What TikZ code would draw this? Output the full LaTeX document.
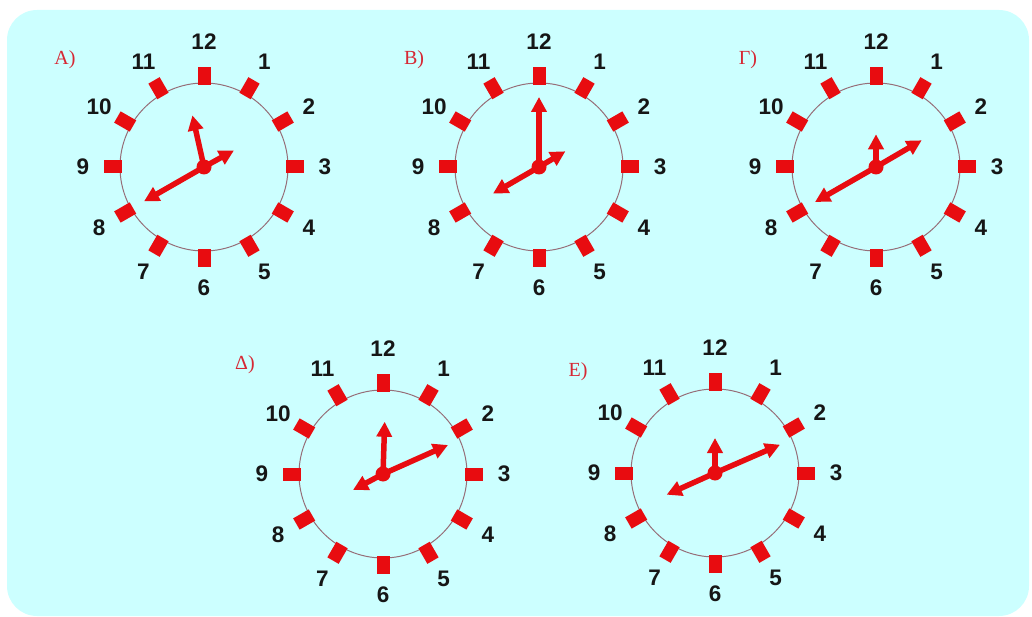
\documentclass[tikz,border=0pt]{standalone}
\usepackage{fontspec}
\setmainfont{Liberation Sans}
\newfontfamily\labelfont{Liberation Serif}
\usetikzlibrary{arrows.meta}
\definecolor{bgcyan}{RGB}{204,255,255}
\definecolor{clockred}{RGB}{232,12,16}
\definecolor{rimgray}{RGB}{150,110,120}
\definecolor{numblack}{RGB}{22,22,22}
\definecolor{lblred}{RGB}{214,40,52}
\tikzset{
  rim/.style={draw=rimgray, line width=1pt},
  tickmark/.style={fill=clockred},
  num/.style={font=\fontsize{22.5}{22.5}\selectfont\bfseries, text=numblack, inner sep=0pt},
  hand/.style={draw=clockred, line width=5.5pt, -{Triangle[length=15pt,width=15pt]}},
  hub/.style={fill=clockred},
  lbl/.style={font=\labelfont\fontsize{20}{20}\selectfont, text=lblred, inner sep=0pt},
}
\newcommand\clockface[3]{%
  \begin{scope}[shift={(#2)}]
    \coordinate (#1) at (0,0);
    \draw[rim] (#1) circle[radius=84];
    \foreach \h in {1,...,12}{
      \fill[tickmark, rotate=-30*\h] (-6.5,-100) rectangle (6.5,-82);
      \pgfmathsetmacro\rr{\h==12 ? 125 : 121}
      \node[num] (#1-n\h) at ({-90+30*\h}:\rr) {\h};
    }
    \foreach \tx/\ty [count=\i] in {#3}{
      \coordinate (#1-t\i) at (\tx,\ty);
      \draw[hand] (#1) -- (#1-t\i);
    }
    \fill[hub] (#1) circle[radius=7.5];
  \end{scope}
}
\begin{document}
\begin{tikzpicture}[x=1pt,y=-1pt]
\useasboundingbox (0,0) rectangle (1032,617);
\fill[bgcyan, rounded corners=30pt] (7,10) rectangle (1029,616);

\clockface{cA}{204,167}{-60/34.4, -11.6/-51.6, 30/-16.6}
\clockface{cB}{539,167}{0/-70, -46/26.6, 26.4/-15.7}
\clockface{cG}{876,167}{0/-32.7, -61/35, 45.7/-26.7}
\clockface{cD}{383,474}{1.7/-52.3, 65/-29, -30/16}
\clockface{cE}{715,473}{0/-35, 65/-28.3, -48.3/21.7}

\node[lbl] (lA) at (65,60) {Α)};
\node[lbl] (lB) at (414,60) {Β)};
\node[lbl] (lG) at (748,60) {Γ)};
\node[lbl] (lD) at (245,365) {Δ)};
\node[lbl] (lE) at (578,372) {Ε)};
\end{tikzpicture}
\end{document}
